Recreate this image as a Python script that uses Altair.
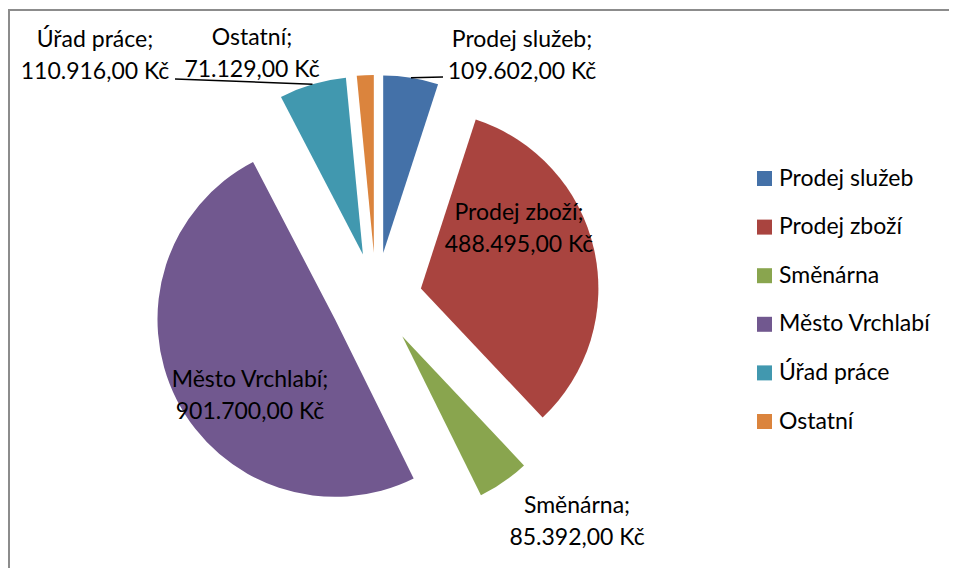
import math
import altair as alt
import pandas as pd

# ---- data -------------------------------------------------------------
categories = ["Prodej služeb", "Prodej zboží", "Směnárna",
              "Město Vrchlabí", "Úřad práce", "Ostatní"]
amounts = [109602.00, 488495.00, 85392.00, 901700.00, 110916.00, 71129.00]
# slice sizes as drawn in the picture (share of the full circle, %)
slice_share = [5.00, 32.97, 4.72, 49.67, 6.11, 1.53]
colors = ["#4471A8", "#A9443F", "#89A54E", "#71588F", "#4198AF", "#DB843D"]

# ---- layout ------------------------------------------------------------
W, H = 941, 560
CX, CY = 368.0, 290.5      # pie centre (plot px)
R = 177.5                  # pie radius
EXPLODE = 46.0             # slice explosion distance
FONT = "Lato"
FS = 23

label_center = {
    "Prodej služeb": (514, 32),
    "Prodej zboží": (511, 205),
    "Směnárna": (569, 498),
    "Město Vrchlabí": (242, 372),
    "Úřad práce": (87, 32),
    "Ostatní": (244, 30),
}
leader_end = {
    "Prodej služeb": (435, 69),
    "Úřad práce": (167, 71),
}


def czk(v):
    s = f"{v:,.2f}".replace(",", " ").replace(".", ",").replace(" ", ".")
    return s + " Kč"


df = pd.DataFrame({
    "idx": list(range(len(categories))),
    "cat": categories,
    "share": slice_share,
    "label": [f"{c};\n{czk(a)}" for c, a in zip(categories, amounts)],
    "lx": [label_center[c][0] for c in categories],
    "ly": [label_center[c][1] for c in categories],
    "ex": [leader_end[c][0] if c in leader_end else None for c in categories],
    "ey": [leader_end[c][1] if c in leader_end else None for c in categories],
})

base = (
    alt.Chart(df)
    .transform_window(cum="sum(share)", sort=[alt.SortField("idx", order="ascending")], frame=[None, 0])
    .transform_joinaggregate(total="sum(share)")
    .transform_calculate(f0="(datum.cum - datum.share) / datum.total")
    .transform_calculate(f1="datum.cum / datum.total")
    .transform_calculate(mid="PI * (datum.f0 + datum.f1)")
    .transform_calculate(ox=f"{CX} + {EXPLODE} * sin(datum.mid)")
    .transform_calculate(oy=f"{CY} - {EXPLODE} * cos(datum.mid)")
    .transform_calculate(ax=f"datum.ox + {R} * sin(datum.mid)")
    .transform_calculate(ay=f"datum.oy - {R} * cos(datum.mid)")
)

arcs = base.mark_arc(outerRadius=R).encode(
    x=alt.X("ox:Q", scale=None, stack=None),
    y=alt.Y("oy:Q", scale=None, stack=None),
    theta=alt.Theta("f0:Q", scale=alt.Scale(domain=[0, 1], range=[0, 2 * math.pi]), stack=None),
    theta2=alt.Theta2("f1"),
    color=alt.Color(
        "cat:N",
        scale=alt.Scale(domain=categories, range=colors),
        legend=alt.Legend(
            title=None, orient="none", legendX=745, legendY=159,
            symbolType="square", symbolSize=225, symbolStrokeWidth=0,
            labelFont=FONT, labelFontSize=FS, labelColor="black",
            labelOffset=3, rowPadding=24.6, padding=0, labelLimit=300,
        ),
    ),
)

leaders = base.transform_filter("isValid(datum.ex)").mark_rule(color="black", strokeWidth=1.5).encode(
    x=alt.X("ax:Q", scale=None, stack=None),
    y=alt.Y("ay:Q", scale=None, stack=None),
    x2=alt.X2("ex"),
    y2=alt.Y2("ey"),
)

texts = base.mark_text(
    font=FONT, fontSize=FS, lineBreak="\n", lineHeight=31.5,
    align="center", baseline="middle", color="black",
).encode(
    x=alt.X("lx:Q", scale=None, stack=None),
    y=alt.Y("ly:Q", scale=None, stack=None),
    text="label:N",
)

# outer frame: only its top and left edges fall inside the picture
# (thin filled bands drawn from the same data source, one row)
frame_src = alt.Chart(df).transform_filter("datum.idx == 0")
top_edge = frame_src.mark_rect(color="#8c8c8c", strokeWidth=0).encode(
    x=alt.value(0), x2=alt.value(W), y=alt.value(1), y2=alt.value(3)
)
left_edge = frame_src.mark_rect(color="#8c8c8c", strokeWidth=0).encode(
    x=alt.value(0), x2=alt.value(2), y=alt.value(1), y2=alt.value(H)
)

chart = (
    alt.layer(top_edge, left_edge, arcs, leaders, texts)
    .properties(width=W, height=H, autosize=alt.AutoSizeParams(type="none"), padding=0,
                background="white")
    .configure_view(stroke=None)
)

chart.save("out.html", embed_options={"renderer": "svg", "actions": False})
